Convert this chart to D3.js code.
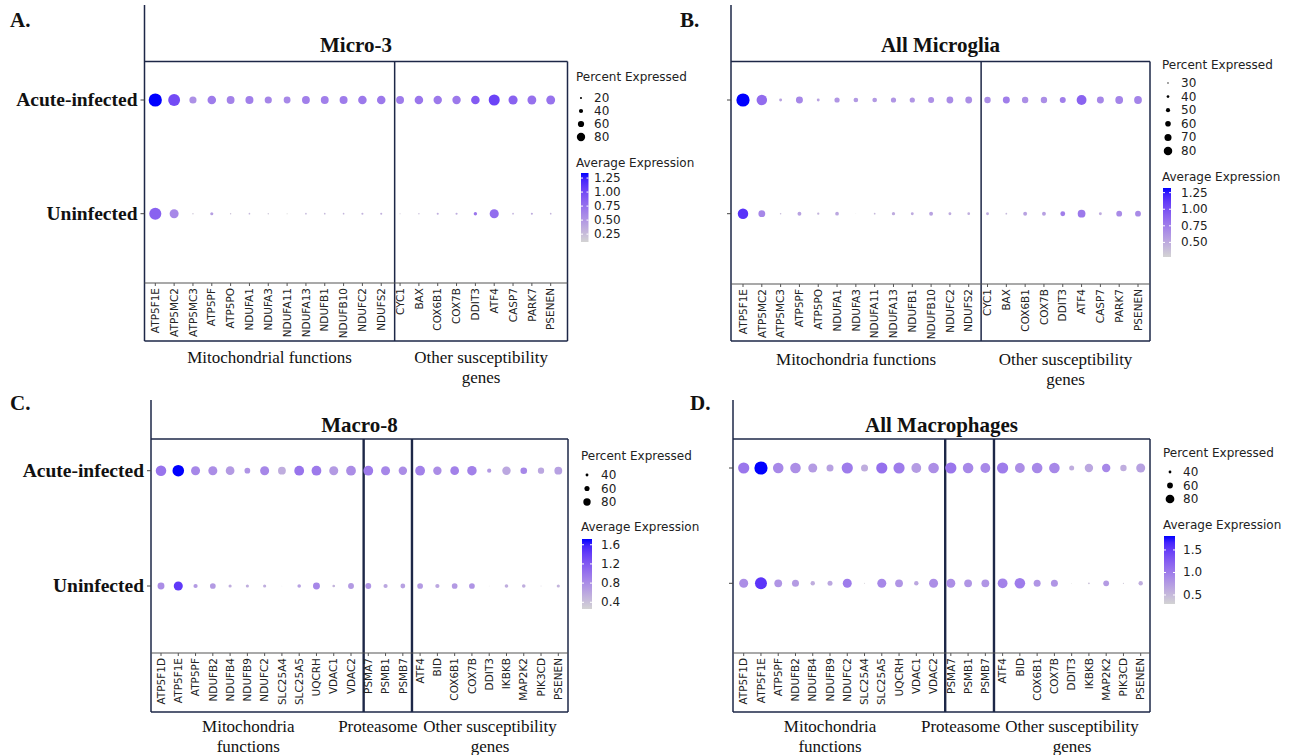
<!DOCTYPE html>
<html>
<head>
<meta charset="utf-8">
<script src="https://cdn.jsdelivr.net/npm/d3@7/dist/d3.min.js"></script>
<style>
  body { margin: 0; background: #fff; }
  svg { display: block; }
  .gene { font-family: "DejaVu Sans", sans-serif; font-size: 10.5px; fill: #222; }
  .leg { font-family: "DejaVu Sans", sans-serif; font-size: 12px; fill: #222; }
  .legnum { font-family: "DejaVu Sans", sans-serif; font-size: 12px; fill: #222; }
  .serif { font-family: "Liberation Serif", "Times New Roman", serif; fill: #111; }
</style>
</head>
<body>
<svg id="chart" width="1302" height="755"></svg>
<script>
var groups = ["Acute-infected", "Uninfected"];

// Microglia genes (panels A and B)
var microGenes = ["ATP5F1E", "ATP5MC2", "ATP5MC3", "ATP5PF", "ATP5PO", "NDUFA1", "NDUFA3", "NDUFA11",
  "NDUFA13", "NDUFB1", "NDUFB10", "NDUFC2", "NDUFS2", "CYC1", "BAX", "COX6B1", "COX7B", "DDIT3",
  "ATF4", "CASP7", "PARK7", "PSENEN"];
var microSetSizes = [13, 9];

// A. Micro-3
var micro3PctAcute = [94, 85, 51, 61, 56, 57, 51, 49, 56, 56, 57, 61, 61, 56, 61, 60, 60, 61, 79, 65, 63, 63];
var micro3PctUninf = [86, 64, 10, 22, 10, 12, 10, 8, 12, 12, 12, 15, 15, 8, 10, 15, 15, 24, 65, 12, 15, 12];
var micro3AvgAcute = [1.34, 1.0, 0.55, 0.68, 0.64, 0.66, 0.62, 0.6, 0.66, 0.66, 0.68, 0.7, 0.7, 0.68, 0.72, 0.7, 0.7, 0.9, 1.05, 0.85, 0.75, 0.74];
var micro3AvgUninf = [0.85, 0.6, 0.2, 0.45, 0.22, 0.28, 0.2, 0.11, 0.28, 0.28, 0.3, 0.32, 0.33, 0.18, 0.25, 0.35, 0.36, 0.72, 0.78, 0.33, 0.36, 0.3];

// B. All Microglia
var allMicroPctAcute = [89, 75, 36, 57, 36, 48, 45, 45, 48, 48, 52, 56, 56, 54, 57, 54, 54, 52, 72, 57, 61, 61];
var allMicroPctUninf = [75, 56, 29, 41, 33, 40, 24, 30, 38, 36, 41, 36, 35, 36, 30, 41, 41, 46, 61, 36, 51, 51];
var allMicroAvgAcute = [1.32, 0.85, 0.55, 0.7, 0.55, 0.62, 0.6, 0.6, 0.62, 0.62, 0.65, 0.68, 0.66, 0.66, 0.75, 0.66, 0.66, 0.75, 0.9, 0.7, 0.72, 0.72];
var allMicroAvgUninf = [1.15, 0.7, 0.4, 0.55, 0.45, 0.52, 0.28, 0.42, 0.5, 0.5, 0.55, 0.5, 0.48, 0.5, 0.42, 0.55, 0.56, 0.75, 0.78, 0.5, 0.68, 0.68];

// Macrophage genes (panels C and D)
var macroGenes = ["ATP5F1D", "ATP5F1E", "ATP5PF", "NDUFB2", "NDUFB4", "NDUFB9", "NDUFC2", "SLC25A4",
  "SLC25A5", "UQCRH", "VDAC1", "VDAC2", "PSMA7", "PSMB1", "PSMB7", "ATF4", "BID", "COX6B1", "COX7B",
  "DDIT3", "IKBKB", "MAP2K2", "PIK3CD", "PSENEN"];
var macroSetSizes = [12, 3, 9];

// C. Macro-8
var macro8PctAcute = [84, 91, 74, 74, 72, 52, 74, 66, 79, 79, 74, 79, 79, 74, 70, 79, 70, 72, 77, 42, 70, 58, 56, 66];
var macro8PctUninf = [60, 74, 42, 52, 35, 35, 35, 18, 38, 60, 32, 53, 53, 42, 46, 52, 42, 52, 52, 18, 38, 38, 20, 35];
var macro8AvgAcute = [1.0, 1.72, 0.85, 0.8, 0.7, 0.75, 0.85, 0.55, 1.0, 0.95, 0.7, 0.8, 0.95, 0.85, 0.8, 0.9, 0.8, 0.9, 0.9, 0.7, 0.6, 0.85, 0.6, 0.65];
var macro8AvgUninf = [0.8, 1.45, 0.7, 0.7, 0.55, 0.55, 0.55, 0.3, 0.65, 0.85, 0.5, 0.7, 0.75, 0.6, 0.65, 0.7, 0.6, 0.7, 0.75, 0.26, 0.55, 0.55, 0.35, 0.5];

// D. All Macrophages
var allMacroPctAcute = [77, 87, 74, 74, 66, 56, 77, 56, 77, 77, 70, 74, 77, 74, 70, 77, 70, 74, 74, 46, 63, 63, 53, 66];
var allMacroPctUninf = [66, 81, 60, 56, 43, 46, 66, 26, 66, 60, 43, 66, 66, 60, 60, 70, 74, 56, 56, 25, 30, 50, 27, 43];
var allMacroAvgAcute = [1.05, 1.81, 0.9, 0.85, 0.75, 0.7, 1.0, 0.6, 1.1, 1.0, 0.75, 0.85, 1.05, 0.9, 0.9, 1.0, 0.85, 0.9, 0.9, 0.6, 0.65, 0.9, 0.6, 0.7];
var allMacroAvgUninf = [0.85, 1.55, 0.8, 0.75, 0.6, 0.65, 1.0, 0.35, 0.9, 0.8, 0.65, 0.85, 0.85, 0.8, 0.8, 0.95, 1.0, 0.8, 0.8, 0.3, 0.45, 0.75, 0.4, 0.6];

// Legend breaks and tick labels
var micro3PctBreaks = [20, 40, 60, 80];
var allMicroPctBreaks = [30, 40, 50, 60, 70, 80];
var macroPctBreaks = [40, 60, 80];
var micro3AvgTicks = [0.25, 0.5, 0.75, 1.0, 1.25];
var allMicroAvgTicks = [0.5, 0.75, 1.0, 1.25];
var macro8AvgTicks = [0.4, 0.8, 1.2, 1.6];
var allMacroAvgTicks = [0.5, 1.0, 1.5];

var microSetLabels = [["Mitochondrial functions"], ["Other susceptibility", "genes"]];
var microSetLabelsB = [["Mitochondria functions"], ["Other susceptibility", "genes"]];
var macroSetLabels = [["Mitochondria", "functions"], ["Proteasome"], ["Other susceptibility", "genes"]];

var svg = d3.select("#chart");
var frameColor = "#1d2747";
var legendK = 0.74;

var panels = [
  { letter: "A.", title: "Micro-3", genes: microGenes, sizes: microSetSizes, setLabels: microSetLabels,
    pct: [micro3PctAcute, micro3PctUninf], avg: [micro3AvgAcute, micro3AvgUninf],
    pctBreaks: micro3PctBreaks, avgTicks: micro3AvgTicks, fmt: ".2f",
    letterX: 10, letterY: 27, left: 144.5, right: 567.5, lineTop: 5, boxTop: 61.5, axisY: 283, bottom: 341,
    x0: 155.3, x1: 550.7, yA: 100, yU: 213.7, titleY: 52, yLabels: true, rmax: 6.6, pctPad: 8, divW: 1.5,
    divShift: [4], setShift: [0, 0], setY: 363,
    leg: { x: 576, titleY: 81, keyY: 98, keyStep: 13, dotX: 581, numX: 594, avgTitleY: 167,
           barX: 581, barW: 7.5, barTop: 173, barBot: 242 } },
  { letter: "B.", title: "All Microglia", genes: microGenes, sizes: microSetSizes, setLabels: microSetLabelsB,
    pct: [allMicroPctAcute, allMicroPctUninf], avg: [allMicroAvgAcute, allMicroAvgUninf],
    pctBreaks: allMicroPctBreaks, avgTicks: allMicroAvgTicks, fmt: ".2f",
    letterX: 680, letterY: 27, left: 731, right: 1150, lineTop: 5, boxTop: 61.5, axisY: 284, bottom: 341,
    x0: 743, x1: 1138, yA: 100, yU: 213.7, titleY: 52, yLabels: false, rmax: 6.6, pctPad: 3, divW: 1.5,
    divShift: [3], setShift: [0, 0], setY: 365,
    leg: { x: 1162, titleY: 69, keyY: 83, keyStep: 13.6, dotX: 1168, numX: 1181, avgTitleY: 181,
           barX: 1163, barW: 8, barTop: 188, barBot: 257 } },
  { letter: "C.", title: "Macro-8", genes: macroGenes, sizes: macroSetSizes, setLabels: macroSetLabels,
    pct: [macro8PctAcute, macro8PctUninf], avg: [macro8AvgAcute, macro8AvgUninf],
    pctBreaks: macroPctBreaks, avgTicks: macro8AvgTicks, fmt: ".1f",
    letterX: 10, letterY: 410, left: 151, right: 568, lineTop: 400, boxTop: 439, axisY: 653, bottom: 712,
    x0: 161, x1: 558.3, yA: 470.7, yU: 586, titleY: 432, yLabels: true, rmax: 5.8, pctPad: 4, divW: 2.4,
    divShift: [4, 0.5], setShift: [-9, -10, 0], setY: 732,
    leg: { x: 581, titleY: 460, keyY: 475, keyStep: 13.5, dotX: 587, numX: 601, avgTitleY: 531,
           barX: 582, barW: 10, barTop: 539, barBot: 609 } },
  { letter: "D.", title: "All Macrophages", genes: macroGenes, sizes: macroSetSizes, setLabels: macroSetLabels,
    pct: [allMacroPctAcute, allMacroPctUninf], avg: [allMacroAvgAcute, allMacroAvgUninf],
    pctBreaks: macroPctBreaks, avgTicks: allMacroAvgTicks, fmt: ".1f",
    letterX: 690, letterY: 410, left: 733, right: 1150, lineTop: 400, boxTop: 439, axisY: 653, bottom: 712,
    x0: 743.7, x1: 1140.7, yA: 468, yU: 583.3, titleY: 432, yLabels: false, rmax: 6.6, pctPad: 4, divW: 2.4,
    divShift: [3, 0], setShift: [-9, -9, 0], setY: 732,
    leg: { x: 1163, titleY: 457, keyY: 472, keyStep: 13.5, dotX: 1170, numX: 1183, avgTitleY: 529,
           barX: 1164, barW: 11, barTop: 536, barBot: 604 } }
];

panels.forEach(function(p, pi) { drawPanel(p, pi); });

function drawPanel(p, pi) {
  var g = svg.append("g");

  // Long-form rows for the dots
  var rows = [];
  groups.forEach(function(grp, gi) {
    p.genes.forEach(function(gene, i) {
      rows.push({ gene: gene, group: grp, pct: p.pct[gi][i], avg: p.avg[gi][i] });
    });
  });

  var x = d3.scalePoint().domain(p.genes).range([p.x0, p.x1]);
  var y = d3.scalePoint().domain(groups).range([p.yA, p.yU]);
  var pctAll = rows.map(function(d) { return d.pct; });
  var r = d3.scaleLinear().domain([d3.min(pctAll) - p.pctPad, d3.max(pctAll)]).range([0, p.rmax]).clamp(true);
  var avgExt = d3.extent(rows, function(d) { return d.avg; });
  var color = d3.scaleLinear().domain(avgExt).range(["lightgrey", "blue"]).interpolate(d3.interpolateLab);

  // Panel letter and title
  g.append("text").attr("class", "serif").attr("x", p.letterX).attr("y", p.letterY)
    .style("font-size", "21px").style("font-weight", "bold").text(p.letter);
  g.append("text").attr("class", "serif").attr("x", (p.left + p.right) / 2).attr("y", p.titleY)
    .attr("text-anchor", "middle").style("font-size", "21px").style("font-weight", "bold").text(p.title);

  // Set boundaries between gene groups
  var bounds = [p.left];
  var idx = 0;
  p.sizes.slice(0, -1).forEach(function(n, k) {
    idx += n;
    var mid = (x(p.genes[idx - 1]) + x(p.genes[idx])) / 2;
    bounds.push(mid + p.divShift[k]);
  });
  bounds.push(p.right);

  // Frame
  var frame = g.append("g").attr("stroke", frameColor).attr("fill", "none").attr("stroke-width", 1.5);
  frame.append("line").attr("x1", p.left).attr("x2", p.left).attr("y1", p.lineTop).attr("y2", p.bottom);
  frame.append("line").attr("x1", p.left).attr("x2", p.right).attr("y1", p.boxTop).attr("y2", p.boxTop);
  frame.append("line").attr("x1", p.right).attr("x2", p.right).attr("y1", p.boxTop).attr("y2", p.bottom);
  frame.append("line").attr("x1", p.left).attr("x2", p.right).attr("y1", p.bottom).attr("y2", p.bottom);
  bounds.slice(1, -1).forEach(function(bx) {
    frame.append("line").attr("x1", bx).attr("x2", bx).attr("y1", p.boxTop).attr("y2", p.bottom).attr("stroke-width", p.divW);
  });

  // x axis line with ticks
  g.append("line").attr("x1", p.left).attr("x2", p.right).attr("y1", p.axisY).attr("y2", p.axisY)
    .attr("stroke", "#555").attr("stroke-width", 1.2);
  g.selectAll(".xtick").data(p.genes).enter().append("line")
    .attr("x1", function(d) { return x(d); }).attr("x2", function(d) { return x(d); })
    .attr("y1", p.axisY).attr("y2", p.axisY + 3).attr("stroke", "#555");
  g.selectAll(".gene").data(p.genes).enter().append("text")
    .attr("class", "gene")
    .attr("transform", function(d) { return "translate(" + (x(d) + 3.7) + "," + (p.axisY + 5) + ") rotate(-90)"; })
    .attr("text-anchor", "end")
    .text(function(d) { return d; });

  // y axis ticks and labels
  groups.forEach(function(grp) {
    g.append("line").attr("x1", p.left - 4).attr("x2", p.left).attr("y1", y(grp)).attr("y2", y(grp)).attr("stroke", "#444");
    if (p.yLabels) {
      g.append("text").attr("class", "serif").attr("x", p.left - 7).attr("y", y(grp) + 6)
        .attr("text-anchor", "end").style("font-size", "19.5px").style("font-weight", "bold").text(grp);
    }
  });

  // Dots
  g.selectAll(".dot").data(rows).enter().append("circle")
    .attr("cx", function(d) { return x(d.gene); })
    .attr("cy", function(d) { return y(d.group); })
    .attr("r", function(d) { return r(d.pct); })
    .attr("fill", function(d) { return color(d.avg); });

  // Gene set labels under the axis
  p.setLabels.forEach(function(lines, k) {
    var cx = (bounds[k] + bounds[k + 1]) / 2 + p.setShift[k];
    lines.forEach(function(t, li) {
      g.append("text").attr("class", "serif").attr("x", cx).attr("y", p.setY + li * 20)
        .attr("text-anchor", "middle").style("font-size", "17px").text(t);
    });
  });

  // Legend: percent expressed
  var L = p.leg;
  g.append("text").attr("class", "leg").attr("x", L.x).attr("y", L.titleY).text("Percent Expressed");
  p.pctBreaks.forEach(function(b, i) {
    var ky = L.keyY + i * L.keyStep;
    g.append("circle").attr("cx", L.dotX).attr("cy", ky).attr("r", r(b) * legendK).attr("fill", "#000");
    g.append("text").attr("class", "legnum").attr("x", L.numX).attr("y", ky + 4).text(b);
  });

  // Legend: average expression colour bar
  g.append("text").attr("class", "leg").attr("x", L.x).attr("y", L.avgTitleY).text("Average Expression");
  var gradId = "grad" + pi;
  var grad = svg.append("defs").append("linearGradient").attr("id", gradId)
    .attr("x1", 0).attr("x2", 0).attr("y1", 1).attr("y2", 0);
  d3.range(0, 1.0001, 0.1).forEach(function(t) {
    grad.append("stop").attr("offset", t).attr("stop-color", color(avgExt[0] + t * (avgExt[1] - avgExt[0])));
  });
  g.append("rect").attr("x", L.barX).attr("y", L.barTop).attr("width", L.barW).attr("height", L.barBot - L.barTop)
    .attr("fill", "url(#" + gradId + ")");
  var barY = d3.scaleLinear().domain(avgExt).range([L.barBot, L.barTop]);
  p.avgTicks.forEach(function(t) {
    g.append("line").attr("x1", L.barX).attr("x2", L.barX + 2).attr("y1", barY(t)).attr("y2", barY(t)).attr("stroke", "#fff");
    g.append("line").attr("x1", L.barX + L.barW - 2).attr("x2", L.barX + L.barW).attr("y1", barY(t)).attr("y2", barY(t)).attr("stroke", "#fff");
    g.append("text").attr("class", "legnum").attr("x", L.numX).attr("y", barY(t) + 4).text(d3.format(p.fmt)(t));
  });
}
</script>
</body>
</html>
